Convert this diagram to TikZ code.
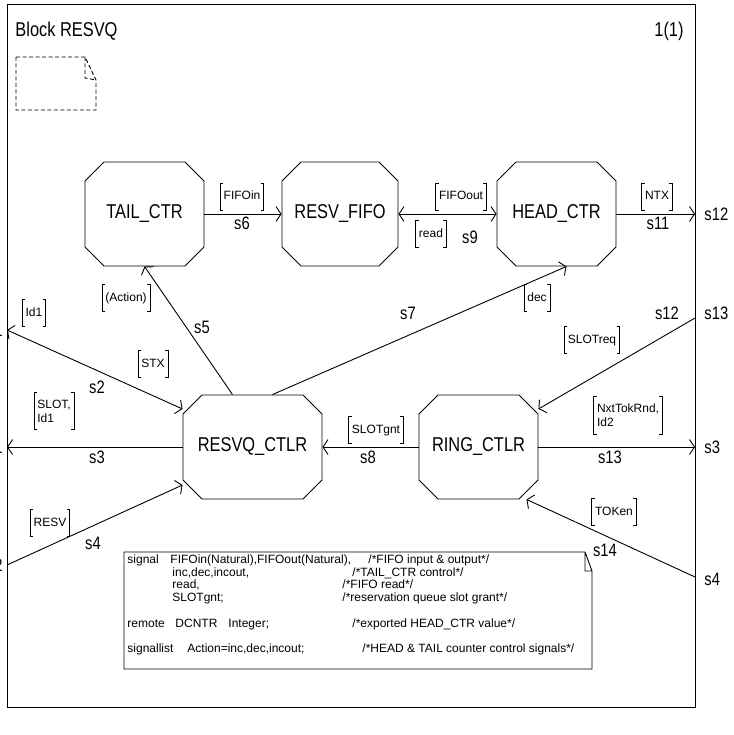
\documentclass[tikz,border=0pt]{standalone}
\usepackage{fontspec}
\setmainfont{Liberation Sans}
\newfontfamily\narrowsans[FakeStretch=0.82]{Liberation Sans}
\usetikzlibrary{arrows.meta,shapes.misc}

\newcommand{\blkfont}{\narrowsans\fontsize{20}{23}\selectfont}
\newcommand{\hdfont}{\narrowsans\fontsize{20}{23}\selectfont}
\newcommand{\snfont}{\narrowsans\fontsize{18}{21}\selectfont}
\newcommand{\sigfont}{\fontsize{12}{14}\selectfont}
\newcommand{\cmtfont}{\fontsize{12}{14}\selectfont}

\begin{document}
\begin{tikzpicture}[
  x=1pt, y=-1pt,
  line width=0.9pt,
  blk/.style={draw, chamfered rectangle, chamfered rectangle xsep=10pt,
              chamfered rectangle ysep=10pt, minimum width=119pt,
              minimum height=104pt, inner sep=0pt, font=\blkfont},
  lbl/.style={font=\sigfont, inner xsep=3pt},
  sig/.style={lbl, inner ysep=7pt, text height=9pt, text depth=3pt},
  sigtwo/.style={lbl, inner ysep=7pt, align=left},
  sname/.style={font=\snfont, inner sep=1pt},
  cmt/.style={font=\cmtfont, inner sep=0pt, anchor=base west},
  brk/.style={line width=0.6pt},
  arr/.style={-{Straight Barb[length=5pt,width=15pt]}},
  darr/.style={{Straight Barb[length=5pt,width=15pt]}-{Straight Barb[length=5pt,width=15pt]}},
]
\useasboundingbox (0,0) rectangle (733,735);

% frame, header, page icon
\draw[line width=1pt] (7,5) rectangle (695,707);
\node[anchor=west, font=\hdfont, inner sep=0pt] (title) at (15,31) {Block RESVQ};
\node[anchor=east, font=\hdfont, inner sep=0pt] (pageno) at (684,31) {1(1)};
\draw[dash pattern=on 4pt off 2.5pt] (16,57) -- (85,57) -- (96,80) -- (96,110) -- (16,110) -- cycle
  (85,57) -- (85,78) -- (96,80);

% frame connection points
\coordinate (fL2) at (7,330);
\coordinate (fL3) at (7,447);
\coordinate (fL4) at (7,565);
\coordinate (fR11) at (695,214);
\coordinate (fR12) at (695,318);
\coordinate (fR13) at (695,447);
\coordinate (fR14) at (695,577);

% blocks
\node[blk] (tail) at (144.5,214) {TAIL\_CTR};
\node[blk, minimum width=116pt] (fifo) at (340,214) {RESV\_FIFO};
\node[blk] (head) at (556.5,214) {HEAD\_CTR};
\node[blk, minimum width=139pt] (resvq) at (252.5,447) {RESVQ\_CTLR};
\node[blk] (ring) at (478.5,447) {RING\_CTLR};

% signal routes
\draw[arr] (tail.east) -- (fifo.west);
\draw[darr] (fifo.east) -- (head.west);
\draw[arr] (head.east) -- (fR11);
\draw[arr] ([xshift=-20pt]resvq.north) -- (tail.south);
\draw[arr] ([xshift=20pt]resvq.north) -- ([xshift=10pt]head.south);
\draw[darr] (fL2) -- ([yshift=38pt]resvq.west);
\draw[arr] (resvq.west) -- (fL3);
\draw[arr] (fL4) -- ([yshift=-38pt]resvq.west);
\draw[arr] (ring.west) -- (resvq.east);
\draw[arr] (fR12) -- ([yshift=38pt]ring.east);
\draw[arr] (ring.east) -- (fR13);
\draw[arr] (fR14) -- ([xshift=48pt]ring.south);

% signal lists
\node[sig] (lFIFOin) at (242,197) {FIFOin};
\node[sig] (lFIFOout) at (461,197) {FIFOout};
\node[sig] (lread) at (431,234) {read};
\node[sig] (lNTX) at (657,197) {NTX};
\node[sig] (lAction) at (126,298) {(Action)};
\node[sig] (ldec) at (537,298) {dec};
\node[sig] (lId) at (34,313) {Id1};
\node[sig] (lSTX) at (153,364) {STX};
\node[sigtwo] (lSLOT) at (54,411) {SLOT,\\Id1};
\node[sig] (lRESV) at (50,523) {RESV};
\node[sig] (lSLOTgnt) at (376,430) {SLOTgnt};
\node[sig] (lSLOTreq) at (592,340) {SLOTreq};
\node[sigtwo] (lNxt) at (628,415) {NxtTokRnd,\\Id2};
\node[sig] (lTOKen) at (614,512) {TOKen};
\foreach \n in {lFIFOin,lFIFOout,lread,lNTX,lAction,ldec,lId,lSTX,lSLOT,lRESV,lSLOTgnt,lSLOTreq,lNxt,lTOKen}
  \draw[brk] ([xshift=3pt]\n.north west) -| (\n.south west) -- ++(3pt,0)
             ([xshift=-3pt]\n.north east) -| (\n.south east) -- ++(-3pt,0);

% route names
\node[sname] (nS6) at (242,223) {s6};
\node[sname] (nS9) at (470,237) {s9};
\node[sname] (nS11) at (658,223) {s11};
\node[sname] (nS5) at (202,327) {s5};
\node[sname] (nS7) at (408,313) {s7};
\node[sname] (nS2) at (97,387) {s2};
\node[sname] (nS3) at (97,457) {s3};
\node[sname] (nS4) at (93,543) {s4};
\node[sname] (nS8) at (368,457) {s8};
\node[sname] (nS12) at (667,313) {s12};
\node[sname] (nS13) at (610,457) {s13};
\node[sname] (nS14) at (605,550) {s14};

% channel names outside the frame
\node[sname, anchor=west] (xR11) at (703,214) {s12};
\node[sname, anchor=west] (xR12) at (703,313) {s13};
\node[sname, anchor=west] (xR13) at (703,447) {s3};
\node[sname, anchor=west] (xR14) at (703,579) {s4};
\node[sname, anchor=east] (xL2) at (4,330) {s1};
\node[sname, anchor=east] (xL3) at (4,447) {s1};
\node[sname, anchor=east] (xL4) at (4,565) {s2};

% text symbol
\draw (124,552) -- (585,552) -- (592,571) -- (592,669) -- (124,669) -- cycle
  (585,552) -- (585,571) -- (592,571);
\node[cmt] (c1) at (127,563.3) {\makebox[43pt][l]{signal}\makebox[198pt][l]{FIFOin(Natural),FIFOout(Natural),}/*FIFO input \& output*/};
\node[cmt] (c2) at (127,576.1) {\makebox[45pt][l]{}\makebox[180pt][l]{inc,dec,incout,}/*TAIL\_CTR control*/};
\node[cmt] (c3) at (127,588.9) {\makebox[45pt][l]{}\makebox[170pt][l]{read,}/*FIFO read*/};
\node[cmt] (c4) at (127,601.7) {\makebox[45pt][l]{}\makebox[170pt][l]{SLOTgnt;}/*reservation queue slot grant*/};
\node[cmt] (c5) at (127,627.3) {\makebox[48pt][l]{remote}\makebox[53pt][l]{DCNTR}\makebox[124pt][l]{Integer;}/*exported HEAD\_CTR value*/};
\node[cmt] (c6) at (127,652.9) {\makebox[60pt][l]{signallist}\makebox[175pt][l]{Action=inc,dec,incout;}/*HEAD \& TAIL counter control signals*/};
\end{tikzpicture}
\end{document}
